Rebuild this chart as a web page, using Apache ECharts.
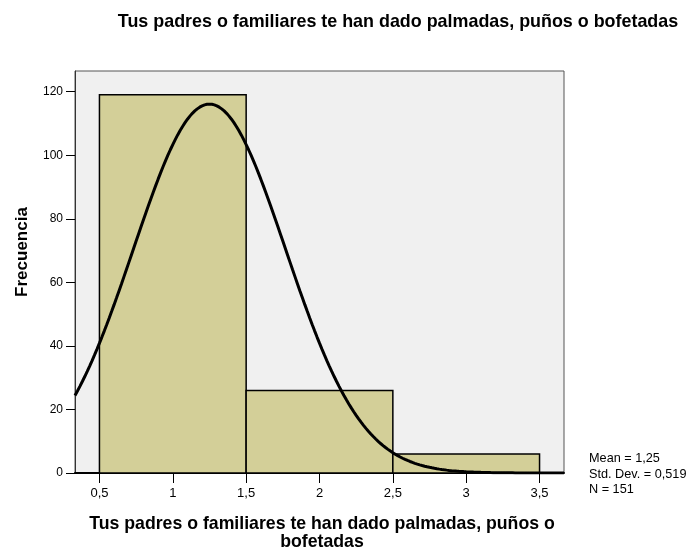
<!DOCTYPE html>
<html>
<head>
<meta charset="utf-8">
<script src="https://cdn.jsdelivr.net/npm/echarts@6/dist/echarts.min.js"></script>
<style>
  html, body { margin: 0; padding: 0; background: #fff; }
  #chart { width: 690px; height: 550px; }
</style>
</head>
<body>
<div id="chart"></div>
<script>
// histogram bins
const binStart = [0.5, 1.5, 2.5];
const binEnd = [1.5, 2.5, 3.5];
const counts = [119, 26, 6];
const xTicks = [0.5, 1, 1.5, 2, 2.5, 3, 3.5];
const yTicks = [0, 20, 40, 60, 80, 100, 120];
// summary stats shown in the legend
const mean = 1.25;
const stdDev = 0.519;
const n = 151;

const xMin = 0.5 - 1 / 6;
const xMax = 3.5 + 1 / 6;
const font = "Liberation Sans, Arial, sans-serif";

// fitted normal curve (count scale, bin width 1)
const curve = [];
for (let i = 0; i <= 200; i++) {
  const x = xMin + (xMax - xMin) * i / 200;
  const z = (x - mean) / stdDev;
  curve.push([x, n * Math.exp(-0.5 * z * z) / (stdDev * Math.sqrt(2 * Math.PI))]);
}

const bars = binStart.map((s, i) => [s, binEnd[i], counts[i]]);

const chart = echarts.init(document.getElementById("chart"));
chart.setOption({
  animation: false,
  textStyle: { fontFamily: font },
  grid: {
    left: 75, right: 126, top: 71, bottom: 77,
    show: true,
    backgroundColor: "#f0f0f0",
    borderColor: "#555",
    borderWidth: 1,
  },
  xAxis: {
    type: "value",
    min: xMin,
    max: xMax,
    splitLine: { show: false },
    axisLine: { show: true, onZero: false, lineStyle: { color: "#000", width: 2 } },
    axisTick: {
      show: true, length: 10, customValues: xTicks,
      lineStyle: { color: "#000", width: 1 },
    },
    axisLabel: {
      customValues: xTicks,
      color: "#000", fontSize: 13, margin: 14,
      formatter: (v) => String(v).replace(".", ","),
    },
  },
  yAxis: {
    type: "value",
    min: 0,
    max: 126.5,
    splitLine: { show: false },
    axisLine: { show: true, lineStyle: { color: "#333", width: 1 } },
    axisTick: {
      show: true, length: 9, customValues: yTicks,
      lineStyle: { color: "#000", width: 1 },
    },
    axisLabel: { customValues: yTicks, color: "#000", fontSize: 12, margin: 12 },
  },
  graphic: [
    {
      type: "text", x: 398, y: 22,
      style: {
        text: "Tus padres o familiares te han dado palmadas, puños o bofetadas",
        font: "bold 17.9px " + font, fill: "#000", align: "center", verticalAlign: "middle",
      },
    },
    {
      type: "text", x: 322, y: 533,
      style: {
        text: "Tus padres o familiares te han dado palmadas, puños o\nbofetadas",
        font: "bold 17.7px " + font, fill: "#000", align: "center",
        verticalAlign: "middle", lineHeight: 18,
      },
    },
    {
      type: "text", x: 22, y: 252, rotation: Math.PI / 2,
      style: {
        text: "Frecuencia", font: "bold 17px " + font, fill: "#000",
        align: "center", verticalAlign: "middle",
      },
    },
    {
      type: "text", x: 589, y: 474,
      style: {
        text: "Mean = 1,25\nStd. Dev. = 0,519\nN = 151",
        font: "12.7px " + font, fill: "#000", lineHeight: 15.5,
        verticalAlign: "middle",
      },
    },
  ],
  series: [
    {
      type: "custom",
      data: bars,
      renderItem: function (params, api) {
        const p0 = api.coord([api.value(0), api.value(2)]);
        const p1 = api.coord([api.value(1), 0]);
        return {
          type: "rect",
          shape: { x: p0[0], y: p0[1], width: p1[0] - p0[0], height: p1[1] - p0[1] },
          style: { fill: "#d3cf98", stroke: "#000", lineWidth: 1.5 },
        };
      },
    },
    {
      type: "line",
      data: curve,
      showSymbol: false,
      clip: true,
      lineStyle: { color: "#000", width: 3 },
    },
  ],
});
</script>
</body>
</html>
